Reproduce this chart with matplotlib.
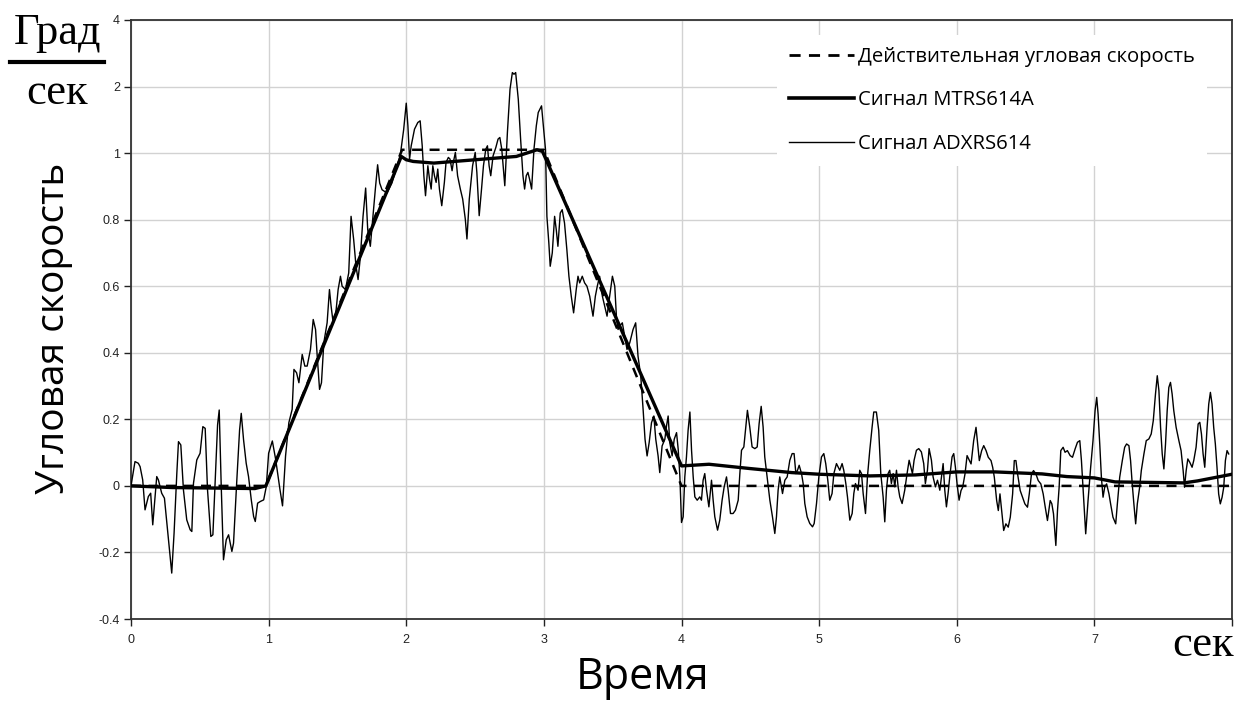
import matplotlib
matplotlib.use("Agg")
import matplotlib.pyplot as plt
from matplotlib.lines import Line2D

# ---------------- data ----------------
ideal_t = [0.0, 0.98, 1.97, 3.0, 4.0, 8.0]
ideal_v = [0.0, 0.0, 1.01, 1.01, 0.0, 0.0]

mtrs_t = [0.0, 0.3, 0.9, 0.98, 1.964, 2.0, 2.05, 2.2, 2.5, 2.8, 2.95, 2.99, 4.0, 4.2,
          4.5, 4.8, 5.0, 5.37, 5.7, 6.0, 6.28, 6.62, 6.8, 7.0, 7.15, 7.65, 7.75, 8.0]
mtrs_v = [0.0, -0.005, -0.008, 0.0, 0.99, 0.98, 0.975, 0.97, 0.98, 0.99, 1.01, 1.005, 0.06, 0.065,
          0.052, 0.04, 0.035, 0.03, 0.033, 0.042, 0.042, 0.036, 0.028, 0.024, 0.012, 0.009, 0.015, 0.035]

adx_t = [0.000, 0.029, 0.053, 0.066, 0.085, 0.102, 0.126, 0.143, 0.158, 0.187, 0.199, 0.223, 0.243,
         0.272, 0.296, 0.313, 0.333, 0.345, 0.362, 0.381, 0.405, 0.430, 0.442, 0.454, 0.478, 0.502,
         0.522, 0.539, 0.556, 0.580, 0.595, 0.612, 0.629, 0.641, 0.655, 0.672, 0.692, 0.709, 0.733,
         0.745, 0.769, 0.789, 0.801, 0.818, 0.837, 0.854, 0.874, 0.891, 0.903, 0.920, 0.939, 0.964,
         0.983, 1.000, 1.027, 1.051, 1.082, 1.101, 1.123, 1.147, 1.171, 1.184, 1.203, 1.220, 1.244,
         1.263, 1.280, 1.304, 1.324, 1.341, 1.353, 1.370, 1.384, 1.401, 1.425, 1.442, 1.454, 1.469,
         1.486, 1.505, 1.522, 1.534, 1.558, 1.582, 1.599, 1.618, 1.635, 1.650, 1.667, 1.686, 1.705,
         1.720, 1.739, 1.758, 1.775, 1.792, 1.807, 1.824, 1.860, 1.896, 1.932, 1.957, 1.981, 2.000,
         2.012, 2.024, 2.036, 2.060, 2.084, 2.101, 2.116, 2.128, 2.140, 2.157, 2.169, 2.181, 2.193,
         2.205, 2.217, 2.229, 2.241, 2.258, 2.277, 2.289, 2.306, 2.318, 2.333, 2.342, 2.357, 2.373,
         2.393, 2.410, 2.429, 2.441, 2.458, 2.482, 2.501, 2.513, 2.530, 2.547, 2.561, 2.578, 2.590,
         2.602, 2.614, 2.631, 2.651, 2.667, 2.680, 2.694, 2.704, 2.716, 2.735, 2.754, 2.771, 2.783,
         2.795, 2.814, 2.831, 2.848, 2.860, 2.872, 2.884, 2.896, 2.911, 2.928, 2.945, 2.959, 2.983,
         3.012, 3.022, 3.036, 3.046, 3.061, 3.078, 3.090, 3.102, 3.119, 3.133, 3.150, 3.167, 3.182,
         3.199, 3.216, 3.235, 3.248, 3.260, 3.279, 3.296, 3.313, 3.333, 3.357, 3.374, 3.388, 3.405,
         3.425, 3.442, 3.459, 3.478, 3.498, 3.515, 3.527, 3.539, 3.551, 3.570, 3.587, 3.604, 3.624,
         3.648, 3.667, 3.684, 3.704, 3.721, 3.735, 3.750, 3.765, 3.782, 3.799, 3.813, 3.830, 3.842,
         3.859, 3.879, 3.891, 3.903, 3.915, 3.932, 3.947, 3.964, 3.976, 3.988, 4.000, 4.012, 4.024,
         4.036, 4.048, 4.061, 4.073, 4.085, 4.097, 4.114, 4.133, 4.145, 4.157, 4.169, 4.182, 4.199,
         4.218, 4.230, 4.242, 4.262, 4.278, 4.295, 4.310, 4.327, 4.339, 4.356, 4.375, 4.392, 4.412,
         4.424, 4.436, 4.453, 4.465, 4.479, 4.496, 4.513, 4.533, 4.550, 4.564, 4.579, 4.593, 4.605,
         4.622, 4.642, 4.661, 4.678, 4.690, 4.702, 4.714, 4.734, 4.751, 4.768, 4.787, 4.804, 4.818,
         4.831, 4.843, 4.855, 4.872, 4.884, 4.896, 4.913, 4.932, 4.952, 4.964, 4.981, 4.998, 5.017,
         5.034, 5.048, 5.063, 5.077, 5.094, 5.107, 5.126, 5.138, 5.150, 5.167, 5.179, 5.194, 5.206,
         5.223, 5.240, 5.252, 5.264, 5.283, 5.295, 5.308, 5.320, 5.337, 5.351, 5.368, 5.385, 5.397,
         5.416, 5.433, 5.448, 5.465, 5.477, 5.489, 5.501, 5.513, 5.525, 5.538, 5.550, 5.562, 5.574,
         5.586, 5.603, 5.622, 5.639, 5.654, 5.666, 5.678, 5.690, 5.707, 5.724, 5.743, 5.760, 5.772,
         5.787, 5.799, 5.816, 5.828, 5.845, 5.860, 5.877, 5.889, 5.901, 5.913, 5.925, 5.937, 5.949,
         5.966, 5.978, 5.990, 6.002, 6.017, 6.031, 6.043, 6.060, 6.075, 6.092, 6.104, 6.123, 6.140,
         6.152, 6.164, 6.181, 6.196, 6.213, 6.229, 6.249, 6.261, 6.273, 6.290, 6.302, 6.314, 6.326,
         6.341, 6.357, 6.374, 6.389, 6.406, 6.418, 6.430, 6.442, 6.461, 6.478, 6.495, 6.514, 6.527,
         6.543, 6.558, 6.575, 6.592, 6.611, 6.628, 6.643, 6.659, 6.679, 6.691, 6.703, 6.720, 6.732,
         6.744, 6.756, 6.773, 6.787, 6.804, 6.824, 6.841, 6.860, 6.877, 6.894, 6.906, 6.920, 6.937,
         6.954, 6.973, 6.990, 7.005, 7.017, 7.027, 7.039, 7.051, 7.063, 7.075, 7.089, 7.106, 7.118,
         7.135, 7.155, 7.167, 7.184, 7.203, 7.220, 7.234, 7.251, 7.263, 7.275, 7.287, 7.300, 7.312,
         7.329, 7.341, 7.360, 7.377, 7.396, 7.413, 7.428, 7.444, 7.457, 7.469, 7.481, 7.493, 7.505,
         7.517, 7.529, 7.541, 7.553, 7.565, 7.577, 7.594, 7.614, 7.630, 7.645, 7.655, 7.667, 7.679,
         7.693, 7.710, 7.722, 7.739, 7.754, 7.766, 7.778, 7.790, 7.802, 7.819, 7.831, 7.843, 7.855,
         7.867, 7.879, 7.891, 7.903, 7.915, 7.928, 7.940, 7.952, 7.964, 7.976]
adx_v = [0.000, 0.073, 0.068, 0.058, 0.018, -0.072, -0.032, -0.022, -0.117, 0.028, 0.018, -0.022, -0.037,
         -0.162, -0.262, -0.142, 0.038, 0.133, 0.123, -0.012, -0.102, -0.132, -0.137, 0.008, 0.078, 0.098,
         0.178, 0.173, -0.012, -0.152, -0.147, 0.018, 0.183, 0.228, 0.008, -0.222, -0.162, -0.147, -0.197,
         -0.172, 0.018, 0.168, 0.218, 0.138, 0.068, 0.028, -0.042, -0.092, -0.107, -0.052, -0.047, -0.042,
         -0.002, 0.098, 0.135, 0.080, -0.010, -0.060, 0.090, 0.190, 0.230, 0.350, 0.340, 0.310, 0.395,
         0.360, 0.360, 0.410, 0.500, 0.470, 0.390, 0.290, 0.310, 0.430, 0.490, 0.590, 0.540, 0.490,
         0.510, 0.590, 0.630, 0.600, 0.590, 0.640, 0.810, 0.740, 0.660, 0.620, 0.690, 0.810, 0.895,
         0.770, 0.720, 0.810, 0.890, 0.965, 0.910, 0.890, 0.880, 0.910, 0.960, 0.995, 1.070, 1.150,
         1.082, 0.982, 1.022, 1.072, 1.092, 1.097, 1.022, 0.932, 0.872, 0.962, 0.922, 0.892, 0.962,
         0.932, 0.912, 0.952, 0.892, 0.842, 0.912, 0.972, 0.987, 0.982, 0.947, 0.972, 1.002, 0.932,
         0.892, 0.862, 0.802, 0.742, 0.862, 0.962, 1.002, 0.942, 0.812, 0.892, 0.962, 1.012, 1.022,
         0.962, 0.932, 0.992, 1.017, 1.042, 1.047, 1.012, 0.962, 0.902, 1.062, 1.192, 1.242, 1.237,
         1.242, 1.162, 1.042, 0.932, 0.892, 0.932, 0.942, 0.922, 0.892, 1.012, 1.082, 1.122, 1.142,
         1.010, 0.810, 0.730, 0.660, 0.700, 0.810, 0.770, 0.720, 0.820, 0.830, 0.790, 0.710, 0.630,
         0.570, 0.520, 0.590, 0.630, 0.610, 0.630, 0.610, 0.600, 0.570, 0.510, 0.570, 0.600, 0.630,
         0.570, 0.540, 0.510, 0.570, 0.630, 0.600, 0.510, 0.470, 0.480, 0.490, 0.450, 0.410, 0.430,
         0.470, 0.490, 0.390, 0.330, 0.230, 0.140, 0.090, 0.130, 0.190, 0.210, 0.140, 0.090, 0.040,
         0.120, 0.140, 0.180, 0.210, 0.130, 0.090, 0.140, 0.160, 0.110, 0.030, -0.110, -0.093, 0.027,
         0.087, 0.167, 0.222, 0.107, 0.027, -0.033, -0.043, -0.033, -0.043, 0.017, 0.037, -0.013, -0.063,
         0.017, -0.043, -0.093, -0.133, -0.103, -0.043, -0.003, 0.027, -0.013, -0.083, -0.083, -0.073, -0.043,
         0.037, 0.107, 0.117, 0.167, 0.227, 0.177, 0.117, 0.112, 0.117, 0.187, 0.239, 0.177, 0.087,
         0.027, -0.043, -0.093, -0.143, -0.093, -0.013, 0.027, -0.023, 0.017, 0.027, 0.077, 0.097, 0.097,
         0.037, 0.047, 0.062, 0.037, 0.007, -0.053, -0.093, -0.113, -0.123, -0.113, -0.053, 0.027, 0.087,
         0.097, 0.067, 0.017, -0.043, -0.023, 0.037, 0.067, 0.057, 0.047, 0.067, 0.047, 0.007, -0.033,
         -0.103, -0.083, -0.023, 0.007, -0.013, 0.047, 0.037, -0.023, -0.083, 0.027, 0.107, 0.177, 0.222,
         0.222, 0.167, 0.037, -0.033, -0.108, -0.013, 0.037, 0.047, 0.007, 0.037, -0.003, 0.047, -0.003,
         -0.033, -0.053, -0.013, 0.037, 0.077, 0.057, 0.037, 0.077, 0.107, 0.112, 0.102, 0.067, 0.007,
         0.047, 0.112, 0.077, 0.027, -0.003, 0.017, -0.013, 0.027, 0.067, -0.013, -0.063, -0.023, 0.027,
         0.087, 0.097, 0.057, 0.007, -0.043, -0.014, -0.004, 0.036, 0.091, 0.076, 0.066, 0.136, 0.176,
         0.126, 0.076, 0.106, 0.121, 0.106, 0.086, 0.076, 0.056, 0.026, -0.044, -0.074, -0.024, -0.074,
         -0.134, -0.114, -0.124, -0.094, -0.024, 0.076, 0.076, 0.036, -0.014, -0.034, -0.054, -0.064, -0.024,
         0.036, 0.046, 0.036, 0.016, 0.006, -0.024, -0.064, -0.104, -0.044, -0.054, -0.084, -0.179, -0.074,
         -0.004, 0.106, 0.116, 0.101, 0.106, 0.091, 0.086, 0.111, 0.131, 0.136, 0.076, -0.024, -0.144,
         -0.044, 0.056, 0.136, 0.226, 0.266, 0.216, 0.126, 0.026, -0.034, -0.004, 0.006, -0.024, -0.054,
         -0.094, -0.114, -0.054, 0.026, 0.076, 0.116, 0.126, 0.121, 0.076, 0.006, -0.054, -0.114, -0.054,
         -0.004, 0.046, 0.096, 0.136, 0.141, 0.156, 0.196, 0.276, 0.331, 0.286, 0.176, 0.096, 0.051,
         0.126, 0.226, 0.296, 0.311, 0.276, 0.226, 0.176, 0.136, 0.106, 0.046, -0.004, 0.046, 0.081,
         0.071, 0.056, 0.076, 0.116, 0.186, 0.191, 0.156, 0.096, 0.056, 0.176, 0.246, 0.281, 0.246,
         0.176, 0.126, 0.056, -0.024, -0.054, -0.034, -0.004, 0.076, 0.106, 0.096]

x_ticks = [0, 1, 2, 3, 4, 5, 6, 7]
y_ticks = [-0.4, -0.2, 0.0, 0.2, 0.4, 0.6, 0.8, 1.0, 1.2, 1.4]
y_tick_labels = ["-0.4", "-0.2", "0", "0.2", "0.4", "0.6", "0.8", "1", "2", "4"]

legend_labels = ["Действительная угловая скорость", "Сигнал MTRS614A", "Сигнал ADXRS614"]

# ---------------- figure ----------------
W, H = 1253, 702
fig = plt.figure(figsize=(W / 100, H / 100), dpi=100)
ax = fig.add_axes([131 / W, 1 - 619 / H, (1232 - 131) / W, (619 - 20) / H])

DASH = (0, (4, 3))
ax.plot(adx_t, adx_v, color="black", lw=1.0, zorder=3)
ax.plot(mtrs_t, mtrs_v, color="black", lw=2.4, zorder=4, solid_joinstyle="round")
ax.plot(ideal_t, ideal_v, color="black", lw=1.8, ls=DASH, zorder=5)

ax.set_xlim(0, 8)
ax.set_ylim(-0.4, 1.4)
ax.set_xticks(x_ticks)
ax.set_xticklabels([str(v) for v in x_ticks])
ax.set_yticks(y_ticks)
ax.set_yticklabels(y_tick_labels)
ax.set_xticks([8], minor=True)
ax.grid(True, which="both", color="#d2d2d2", lw=1.0, zorder=0)
ax.tick_params(axis="both", which="both", direction="out", length=5, width=1.0,
               labelsize=9, colors="#222222", pad=3)
ax.tick_params(axis="x", which="major", pad=6)
for lab in ax.get_xticklabels() + ax.get_yticklabels():
    lab.set_family("Liberation Sans")
for sp in ax.spines.values():
    sp.set_color("#333333")
    sp.set_linewidth(1.3)

# legend
handles = [Line2D([], [], color="black", lw=2.0, ls=DASH),
           Line2D([], [], color="black", lw=2.6),
           Line2D([], [], color="black", lw=1.0)]
leg = fig.legend(handles, legend_labels, loc="upper left",
                 bbox_to_anchor=(777 / W, 1 - 35 / H), bbox_transform=fig.transFigure,
                 frameon=True, facecolor="white", edgecolor="none", framealpha=1.0,
                 fancybox=False, handlelength=3.2, handletextpad=0.2,
                 labelspacing=1.15, borderpad=0.6, borderaxespad=0,
                 prop={"family": "Open Sans", "size": 14.6})
leg.set_zorder(10)

# axis titles
fig.text(54 / W, 1 - 328 / H, "Угловая скорость", rotation=90, ha="center", va="center",
         family="Open Sans", fontsize=28)
fig.text(643 / W, 1 - 678 / H, "Время", ha="center", va="center",
         family="Open Sans", fontsize=31)

# units
fig.text(58 / W, 1 - 33 / H, "Град", ha="center", va="center",
         family="Liberation Serif", fontsize=32)
fig.add_artist(Line2D([10 / W, 104 / W], [1 - 62 / H, 1 - 62 / H], color="black", lw=3,
                      transform=fig.transFigure))
fig.text(57 / W, 1 - 93 / H, "сек", ha="center", va="center",
         family="Liberation Serif", fontsize=32)
fig.text(1203 / W, 1 - 645 / H, "сек", ha="center", va="center",
         family="Liberation Serif", fontsize=32)

fig.savefig("out.png", dpi=100)
